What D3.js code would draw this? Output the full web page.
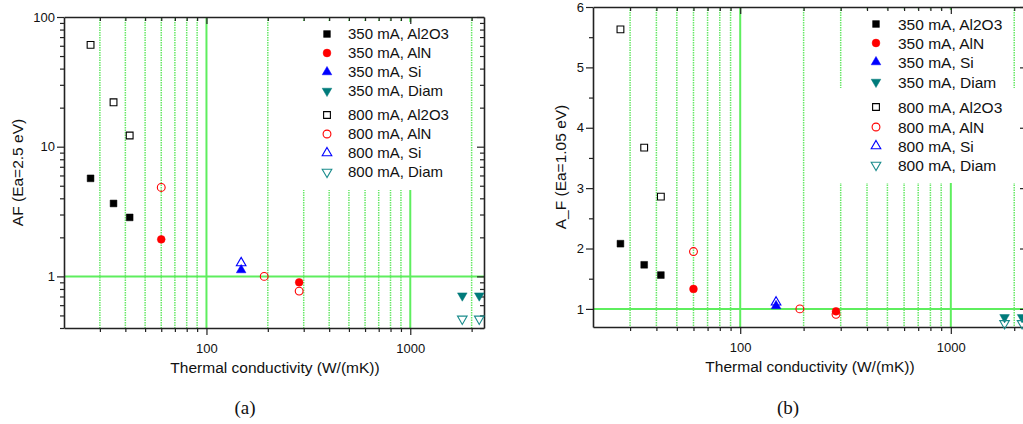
<!DOCTYPE html>
<html>
<head>
<meta charset="utf-8">
<script src="https://cdn.jsdelivr.net/npm/d3@7"></script>
<style>
  body { margin: 0; background: #fff; }
  svg { display: block; font-family: "Liberation Sans", Arial, sans-serif; }
</style>
</head>
<body>
<svg id="chart" width="1023" height="424"></svg>
<script>
// thermal conductivity of each substrate (W/mK)
const kAl2O3 = [27, 35, 42];
const kAlN350 = [60, 285];
const kAlN800 = [60, 192, 285];
const kSi = [148];
const kDiam = [1800, 2180];

// (a) AF, Ea = 2.5 eV
const afA350Al2O3 = [5.7, 3.65, 2.85];
const afA350AlN = [1.93, 0.9];
const afA350Si = [1.12];
const afA350Diam = [0.71, 0.71];
const afA800Al2O3 = [61, 22, 12.2];
const afA800AlN = [4.85, 1.0, 0.77];
const afA800Si = [1.27];
const afA800Diam = [0.47, 0.47];

// (b) A_F, Ea = 1.05 eV
const afB350Al2O3 = [2.08, 1.73, 1.56];
const afB350AlN = [1.33, 0.96];
const afB350Si = [1.05];
const afB350Diam = [0.86, 0.86];
const afB800Al2O3 = [5.63, 3.67, 2.86];
const afB800AlN = [1.95, 1.0, 0.91];
const afB800Si = [1.11];
const afB800Diam = [0.76, 0.76];

const legendLabels = ['350 mA, Al2O3', '350 mA, AlN', '350 mA, Si', '350 mA, Diam',
                      '800 mA, Al2O3', '800 mA, AlN', '800 mA, Si', '800 mA, Diam'];

const xDomain = [20, 2300];
const xMinor = [30, 40, 50, 60, 70, 80, 90, 200, 300, 400, 500, 600, 700, 800, 900, 2000];
const xMajor = [100, 1000];
const yDomainA = [0.4, 100];
const yDomainB = [0.7, 6];
const yTicksB = [1, 2, 3, 4, 5, 6];

const FONT = '"Liberation Sans", Arial, sans-serif';
const teal = '#007b7b';
// one style per legend entry
const styles = [
  {shape: 'square', fill: '#000', stroke: '#000'},
  {shape: 'circle', fill: '#f00', stroke: '#f00'},
  {shape: 'up', fill: '#00f', stroke: '#00f'},
  {shape: 'down', fill: teal, stroke: teal},
  {shape: 'square', fill: 'none', stroke: '#000'},
  {shape: 'circle', fill: 'none', stroke: '#f00'},
  {shape: 'up', fill: 'none', stroke: '#00f'},
  {shape: 'down', fill: 'none', stroke: '#1a8c8c'}
];

function symbolPath(shape) {
  if (shape === 'square') return d3.symbol(d3.symbolSquare, 46)();
  if (shape === 'circle') return d3.symbol(d3.symbolCircle, 48)();
  return d3.symbol(d3.symbolTriangle, 40)();
}
function symbolTransform(shape, x, y) {
  return shape === 'down' ? `translate(${x},${y}) rotate(180)` : `translate(${x},${y})`;
}

const svg = d3.select('#chart');

function drawPanel(cfg) {
  const g = svg.append('g');
  const x = d3.scaleLog().domain(xDomain).range([cfg.left, cfg.right]);
  const y = cfg.yScale;
  const top = cfg.top, bottom = cfg.bottom;

  // grid: dotted minor, solid decades
  g.selectAll('.gminor').data(xMinor).enter().append('line')
    .attr('class', 'gminor')
    .attr('x1', d => x(d)).attr('x2', d => x(d))
    .attr('y1', top).attr('y2', bottom)
    .style('stroke', '#66e866').style('stroke-width', 1.5)
    .style('stroke-dasharray', '1.5,1');
  g.selectAll('.gmajor').data(xMajor).enter().append('line')
    .attr('class', 'gmajor')
    .attr('x1', d => x(d)).attr('x2', d => x(d))
    .attr('y1', top).attr('y2', bottom)
    .style('stroke', '#5eee5e').style('stroke-width', 2);
  g.append('line')
    .attr('x1', cfg.left).attr('x2', cfg.right)
    .attr('y1', y(1)).attr('y2', y(1))
    .style('stroke', '#5eee5e').style('stroke-width', 2);

  // legend backgrounds cover the grid
  cfg.legendBoxes.forEach(b => {
    g.append('rect').attr('x', b[0]).attr('y', b[1])
      .attr('width', b[2] - b[0]).attr('height', b[3] - b[1])
      .attr('fill', '#fff');
  });

  // axes
  const axisColor = '#222';
  const fmt = d => xMajor.includes(d) ? d3.format('d')(d) : '';
  const xTickVals = xMajor.concat(xMinor);

  const xb = g.append('g').attr('transform', `translate(0,${bottom})`)
    .call(d3.axisBottom(x).tickValues(xTickVals).tickFormat(fmt).tickSizeOuter(0));
  xb.selectAll('.tick line').attr('y2', d => xMajor.includes(d) ? 7 : 4);
  const xt = g.append('g').attr('transform', `translate(0,${top})`)
    .call(d3.axisTop(x).tickValues(xTickVals).tickFormat('').tickSizeOuter(0));
  xt.selectAll('.tick line').attr('y2', d => xMajor.includes(d) ? 7 : 4);

  const yl = g.append('g').attr('transform', `translate(${cfg.left},0)`)
    .call(d3.axisLeft(y).tickValues(cfg.yTicks).tickFormat(cfg.yFormat).tickSizeOuter(0));
  yl.selectAll('.tick line').attr('x2', d => cfg.yMajor(d) ? -7 : -4);
  const yr = g.append('g').attr('transform', `translate(${cfg.right},0)`)
    .call(d3.axisRight(y).tickValues(cfg.yTicks).tickFormat('').tickSizeOuter(0));
  yr.selectAll('.tick line').attr('x2', d => cfg.yMajor(d) ? -7 : -4);

  [xb, xt, yl, yr].forEach(a => {
    a.select('.domain').attr('stroke', axisColor).attr('stroke-width', 1.6);
    a.selectAll('.tick line').attr('stroke', axisColor).attr('stroke-width', 1.2);
    a.selectAll('.tick text').attr('fill', '#111').style('font-size', '13px')
      .style('font-family', FONT);
  });
  xb.selectAll('.tick text').attr('dy', '1.2em');

  // labels
  g.append('text')
    .attr('x', cfg.xLabelX).attr('y', cfg.xLabelY)
    .attr('text-anchor', 'middle').style('font-size', '15.5px').attr('fill', '#111')
    .text('Thermal conductivity (W/(mK))');
  g.append('text')
    .attr('transform', `translate(${cfg.yLabelX},${(top + bottom) / 2}) rotate(-90)`)
    .attr('text-anchor', 'middle').style('font-size', '15.5px').attr('fill', '#111')
    .text(cfg.yLabel);
  g.append('text')
    .attr('x', cfg.tagX).attr('y', 414)
    .attr('text-anchor', 'middle')
    .style('font-family', '"Liberation Serif", "Times New Roman", serif')
    .style('font-size', '19px').attr('fill', '#111')
    .text(cfg.tag);

  // points
  cfg.series.forEach((s, i) => {
    const st = styles[i];
    g.selectAll(null).data(s.k.map((k, j) => [k, s.v[j]])).enter().append('path')
      .attr('d', symbolPath(st.shape))
      .attr('transform', d => symbolTransform(st.shape, x(d[0]), y(d[1])))
      .attr('fill', st.fill).attr('stroke', st.stroke)
      .attr('stroke-width', st.fill === 'none' ? 1.1 : 0.5);
  });

  // legend entries
  legendLabels.forEach((lab, i) => {
    const st = styles[i];
    const ly = cfg.legendRows[i];
    g.append('path')
      .attr('d', symbolPath(st.shape))
      .attr('transform', symbolTransform(st.shape, cfg.legendMarkX, ly))
      .attr('fill', st.fill).attr('stroke', st.stroke)
      .attr('stroke-width', st.fill === 'none' ? 1.1 : 0.5);
    g.append('text')
      .attr('x', cfg.legendTextX).attr('y', ly).attr('dy', '0.36em')
      .style('font-size', cfg.legendFont).attr('fill', '#111')
      .text(lab);
  });
}

// minor log ticks for (a)
const yTicksA = [];
[0.1, 1, 10].forEach(dec => {
  for (let m = 1; m <= 9; m++) {
    const v = +(m * dec).toPrecision(3);
    if (v >= yDomainA[0] && v <= yDomainA[1]) yTicksA.push(v);
  }
});
yTicksA.push(100);
const yMinorB = [];
yTicksB.forEach(v => { if (v + 0.5 < yDomainB[1]) yMinorB.push(v + 0.5); });

drawPanel({
  left: 64, right: 484, top: 17, bottom: 328,
  yScale: d3.scaleLog().domain(yDomainA).range([328, 17]),
  yTicks: yTicksA,
  yMajor: d => [1, 10, 100].includes(d),
  yFormat: d => [1, 10, 100].includes(d) ? d3.format('d')(d) : '',
  yLabel: 'AF (Ea=2.5 eV)', yLabelX: 23,
  xLabelX: 275, xLabelY: 373,
  tag: '(a)', tagX: 245,
  legendBoxes: [[300, 22, 470, 190]],
  legendMarkX: 327, legendTextX: 348, legendFont: '15px',
  legendRows: [34, 53, 72, 91, 115, 134, 153, 172],
  series: [
    {k: kAl2O3, v: afA350Al2O3}, {k: kAlN350, v: afA350AlN},
    {k: kSi, v: afA350Si}, {k: kDiam, v: afA350Diam},
    {k: kAl2O3, v: afA800Al2O3}, {k: kAlN800, v: afA800AlN},
    {k: kSi, v: afA800Si}, {k: kDiam, v: afA800Diam}
  ]
});

drawPanel({
  left: 593, right: 1027, top: 7, bottom: 327,
  yScale: d3.scaleLinear().domain(yDomainB).range([327, 7]),
  yTicks: yTicksB.concat(yMinorB),
  yMajor: d => Number.isInteger(d),
  yFormat: d => Number.isInteger(d) ? d : '',
  yLabel: 'A_F (Ea=1.05 eV)', yLabelX: 566,
  xLabelX: 810, xLabelY: 372,
  tag: '(b)', tagX: 788,
  legendBoxes: [[848, 10, 1010, 88], [835, 88, 1019, 183]],
  legendMarkX: 876, legendTextX: 898, legendFont: '15.5px',
  legendRows: [24, 43, 62, 82, 107, 127, 146, 165],
  series: [
    {k: kAl2O3, v: afB350Al2O3}, {k: kAlN350, v: afB350AlN},
    {k: kSi, v: afB350Si}, {k: kDiam, v: afB350Diam},
    {k: kAl2O3, v: afB800Al2O3}, {k: kAlN800, v: afB800AlN},
    {k: kSi, v: afB800Si}, {k: kDiam, v: afB800Diam}
  ]
});
</script>
</body>
</html>
